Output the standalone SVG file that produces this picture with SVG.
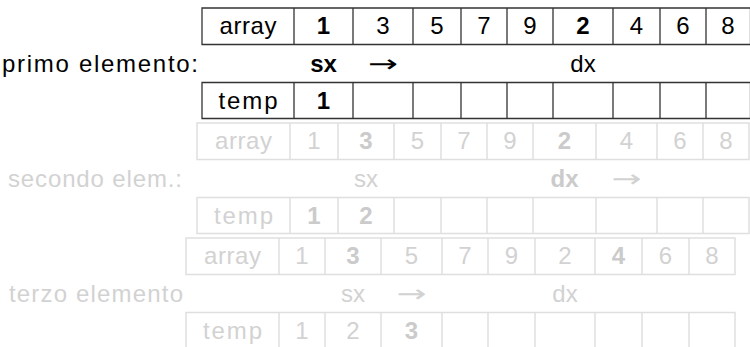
<svg xmlns="http://www.w3.org/2000/svg" width="750" height="347" viewBox="0 0 750 347">
<style>
text{font-family:"Liberation Sans",Arial,sans-serif;font-size:24px;text-anchor:middle}
.lbl{text-anchor:start}
.b{font-weight:bold}
.ar{font-family:"DejaVu Sans",sans-serif;font-size:24px}
.k text{fill:#000}
.k .grid{fill:none;stroke:#333;stroke-width:1.3}
.g text{fill:#d2d2d2}
.g text.b{fill:#cbcbcb}
.g .grid{fill:none;stroke:#dfdfdf;stroke-width:1.5}
</style>
<rect width="750" height="347" fill="#fff"/>

<g id="block1" class="k">
  <text class="lbl" x="2" y="71.5" textLength="196" lengthAdjust="spacing">primo elemento:</text>
  <g id="b1-array">
    <path class="grid" d="M202,8H750.5V44.5H202Z M294,8V44.5 M353,8V44.5 M413,8V44.5 M461,8V44.5 M507,8V44.5 M553,8V44.5 M613,8V44.5 M660,8V44.5 M706,8V44.5"/>
    <text x="248" y="34" textLength="57" lengthAdjust="spacing">array</text>
    <text class="b" x="323.5" y="34">1</text>
    <text x="383" y="34">3</text>
    <text x="437" y="34">5</text>
    <text x="484" y="34">7</text>
    <text x="530" y="34">9</text>
    <text class="b" x="583" y="34">2</text>
    <text x="636.5" y="34">4</text>
    <text x="683" y="34">6</text>
    <text x="728" y="34">8</text>
  </g>
  <g id="b1-pointers">
    <text class="b" x="323.5" y="71.5">sx</text>
    <text class="ar" x="383" y="71.5" textLength="30" lengthAdjust="spacingAndGlyphs">→</text>
    <text x="583" y="71.5">dx</text>
  </g>
  <g id="b1-temp">
    <path class="grid" d="M202,82.5H750.5V118.5H202Z M294,82.5V118.5 M353,82.5V118.5 M413,82.5V118.5 M461,82.5V118.5 M507,82.5V118.5 M553,82.5V118.5 M613,82.5V118.5 M660,82.5V118.5 M706,82.5V118.5"/>
    <text x="248" y="108.5" textLength="59" lengthAdjust="spacing">temp</text>
    <text class="b" x="323.5" y="108.5">1</text>
  </g>
</g>

<g id="block2" class="g">
  <text class="lbl" x="8" y="186.5" textLength="174" lengthAdjust="spacing">secondo elem.:</text>
  <g id="b2-array">
    <path class="grid" d="M197,123H749V159.5H197Z M290,123V159.5 M338,123V159.5 M394,123V159.5 M441,123V159.5 M487,123V159.5 M533,123V159.5 M596,123V159.5 M657,123V159.5 M703,123V159.5"/>
    <text x="243.5" y="149" textLength="57" lengthAdjust="spacing">array</text>
    <text x="314" y="149">1</text>
    <text class="b" x="366" y="149">3</text>
    <text x="417.5" y="149">5</text>
    <text x="464" y="149">7</text>
    <text x="510" y="149">9</text>
    <text class="b" x="564.5" y="149">2</text>
    <text x="626.5" y="149">4</text>
    <text x="680" y="149">6</text>
    <text x="726" y="149">8</text>
  </g>
  <g id="b2-pointers">
    <text x="366" y="186.5">sx</text>
    <text class="b" x="564.5" y="186.5">dx</text>
    <text class="ar" x="626.5" y="186.5" textLength="30" lengthAdjust="spacingAndGlyphs">→</text>
  </g>
  <g id="b2-temp">
    <path class="grid" d="M197,197.5H749V233.5H197Z M290,197.5V233.5 M338,197.5V233.5 M394,197.5V233.5 M441,197.5V233.5 M487,197.5V233.5 M533,197.5V233.5 M596,197.5V233.5 M657,197.5V233.5 M703,197.5V233.5"/>
    <text x="243.5" y="223.5" textLength="59" lengthAdjust="spacing">temp</text>
    <text class="b" x="314" y="223.5">1</text>
    <text class="b" x="366" y="223.5">2</text>
  </g>
</g>

<g id="block3" class="g">
  <text class="lbl" x="9" y="301.5" textLength="174" lengthAdjust="spacing">terzo elemento</text>
  <g id="b3-array">
    <path class="grid" d="M186,238H735V274.5H186Z M279,238V274.5 M325,238V274.5 M381,238V274.5 M442,238V274.5 M488,238V274.5 M535,238V274.5 M595,238V274.5 M642,238V274.5 M689,238V274.5"/>
    <text x="232.5" y="264" textLength="57" lengthAdjust="spacing">array</text>
    <text x="302" y="264">1</text>
    <text class="b" x="353" y="264">3</text>
    <text x="411.5" y="264">5</text>
    <text x="465" y="264">7</text>
    <text x="511.5" y="264">9</text>
    <text x="565" y="264">2</text>
    <text class="b" x="618.5" y="264">4</text>
    <text x="665.5" y="264">6</text>
    <text x="712" y="264">8</text>
  </g>
  <g id="b3-pointers">
    <text x="353" y="301.5">sx</text>
    <text class="ar" x="411.5" y="301.5" textLength="30" lengthAdjust="spacingAndGlyphs">→</text>
    <text x="565" y="301.5">dx</text>
  </g>
  <g id="b3-temp">
    <path class="grid" d="M186,312.5H735V348.5H186Z M279,312.5V348.5 M325,312.5V348.5 M381,312.5V348.5 M442,312.5V348.5 M488,312.5V348.5 M535,312.5V348.5 M595,312.5V348.5 M642,312.5V348.5 M689,312.5V348.5"/>
    <text x="232.5" y="338.5" textLength="59" lengthAdjust="spacing">temp</text>
    <text x="302" y="338.5">1</text>
    <text x="353" y="338.5">2</text>
    <text class="b" x="411.5" y="338.5">3</text>
  </g>
</g>
</svg>
